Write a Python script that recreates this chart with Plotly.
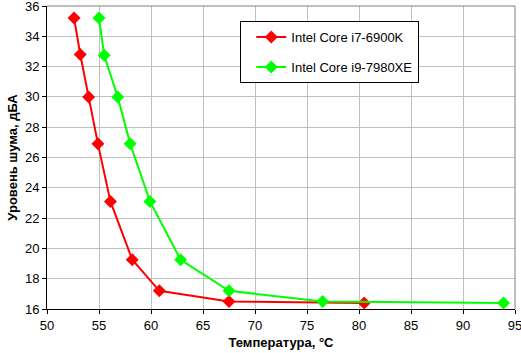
import plotly.graph_objects as go

i7_temp = [52.6, 53.2, 54.0, 54.9, 56.1, 58.2, 60.8, 67.5, 80.5]
i7_noise = [35.2, 32.8, 30.0, 26.9, 23.1, 19.25, 17.2, 16.5, 16.4]
i9_temp = [55.0, 55.5, 56.8, 58.0, 59.9, 62.85, 67.5, 76.5, 93.9]
i9_noise = [35.2, 32.75, 30.0, 26.9, 23.1, 19.25, 17.2, 16.5, 16.4]
names = ["Intel Core i7-6900K", "Intel Core i9-7980XE"]
colors = ["#ff0000", "#00ff00"]

fig = go.Figure()
for i, (xs, ys) in enumerate([(i7_temp, i7_noise), (i9_temp, i9_noise)]):
    fig.add_trace(go.Scatter(
        x=xs, y=ys, mode="lines+markers", name=names[i],
        legendgroup=f"g{i}",
        line=dict(color=colors[i], width=2),
        marker=dict(symbol="diamond", size=10, color=colors[i]),
    ))

font = "Liberation Sans, Arial, sans-serif"
fig.update_layout(
    width=521, height=353,
    margin=dict(l=47, r=6, t=6, b=44, autoexpand=False),
    paper_bgcolor="white", plot_bgcolor="white",
    font=dict(family=font, size=13, color="black"),
    showlegend=True,
    legend=dict(
        x=0.413, y=0.95, xanchor="left", yanchor="top",
        bordercolor="black", borderwidth=1, bgcolor="white",
        font=dict(family=font, size=13),
        traceorder="grouped", tracegroupgap=10,
        indentation=10, entrywidth=139,
    ),
    xaxis=dict(
        range=[50, 95], dtick=5, showgrid=True, gridcolor="#c0c0c0", gridwidth=1,
        showline=True, linecolor="black", linewidth=1, mirror=False,
        ticks="outside", ticklen=4, tickcolor="black",
        ticklabeloverflow="allow", automargin=False,
        zeroline=False,
        title=dict(text="<b>Температура, °С</b>", font=dict(size=13), standoff=6),
    ),
    yaxis=dict(
        range=[16, 36], dtick=2, showgrid=True, gridcolor="#c0c0c0", gridwidth=1,
        showline=True, linecolor="black", linewidth=1,
        ticks="outside", ticklen=4, tickcolor="black",
        ticklabeloverflow="allow", automargin=False,
        zeroline=False,
        title=dict(text="<b>Уровень шума, дБА</b>", font=dict(size=13), standoff=4),
    ),
    shapes=[
        dict(type="line", xref="paper", yref="paper", x0=0, x1=1, y0=1, y1=1,
             line=dict(color="#808080", width=1)),
        dict(type="line", xref="paper", yref="paper", x0=1, x1=1, y0=0, y1=1,
             line=dict(color="#808080", width=1)),
    ],
)

fig.write_html("out.html")
